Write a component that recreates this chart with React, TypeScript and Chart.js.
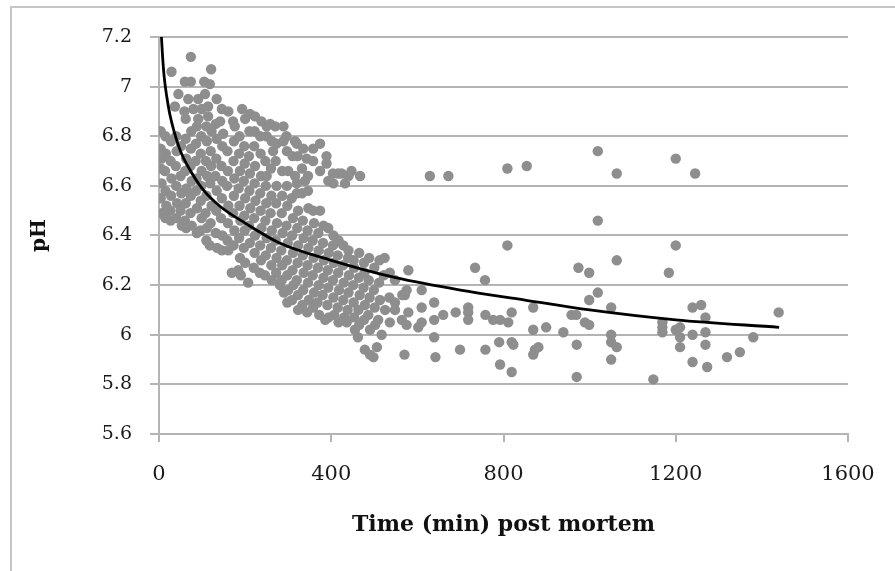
import React, { useEffect, useRef } from "react";
import { Chart, registerables } from "chart.js";

Chart.register(...registerables);

// Scatter readings (time in minutes post mortem, pH)
const cloudEarly: [number, number][] = [
  [4,6.82],[4,6.75],[6,6.71],[4,6.67],[6,6.61],[4,6.55],[6,6.49],
  [15,6.80],[16,6.73],[14,6.66],[15,6.58],[17,6.52],[15,6.47],
  [29,7.06],[28,6.78],[27,6.70],[29,6.63],[28,6.56],[26,6.50],[27,6.46],
  [37,6.92],[40,6.80],[41,6.74],[39,6.68],[40,6.60],[42,6.53],[40,6.47],
  [45,6.97],[51,6.76],[50,6.64],[52,6.57],[50,6.50],[53,6.44],
  [60,7.02],[59,6.90],[62,6.87],[62,6.79],[63,6.71],[61,6.66],[64,6.59],[62,6.53],[60,6.46],[63,6.43],
  [74,7.12],[74,7.02],[68,6.95],[75,6.82],[74,6.75],[73,6.68],[76,6.62],[74,6.56],[73,6.49],[76,6.44],
  [80,6.91],[88,6.84],[86,6.77],[85,6.70],[87,6.63],[86,6.58],[88,6.51],[88,6.41],
  [91,6.95],[99,6.91],[91,6.87],[98,6.80],[97,6.73],[99,6.66],[98,6.60],[97,6.54],[99,6.47],[96,6.42],
  [105,7.02],[107,6.97],[114,6.92],[110,6.84],[111,6.78],[109,6.70],[112,6.64],[110,6.56],[108,6.49],[111,6.43],[110,6.38],
  [121,7.07],[118,7.01],[114,6.88],[122,6.82],[120,6.74],[121,6.68],[119,6.61],[122,6.52],[120,6.45],[118,6.36],
  [134,6.95],[132,6.85],[134,6.79],[133,6.71],[131,6.64],[134,6.58],[133,6.50],[132,6.41],[135,6.35],
  [146,6.91],[142,6.86],[147,6.76],[145,6.68],[147,6.62],[146,6.55],[144,6.47],[147,6.40],[146,6.34],
  [161,6.90],[149,6.81],[159,6.74],[160,6.66],[158,6.60],[161,6.52],[160,6.45],[159,6.38],[161,6.34],[169,6.25],
  [172,6.86],[176,6.84],[174,6.78],[173,6.70],[175,6.63],[174,6.56],[172,6.49],[175,6.42],[173,6.36],[184,6.26],
  [187,6.80],[186,6.73],[188,6.66],[185,6.59],[187,6.52],[189,6.46],[186,6.39],[188,6.31],[190,6.24],
  [193,6.91],[200,6.87],[198,6.76],[199,6.69],[197,6.62],[200,6.55],[198,6.48],[199,6.42],[197,6.35],[200,6.29],
];

const cloudMid: [number, number][] = [
  [211,6.89],[210,6.82],[209,6.72],[211,6.65],[210,6.58],[212,6.51],[209,6.44],[211,6.37],[207,6.21],
  [223,6.88],[222,6.82],[221,6.76],[223,6.68],[222,6.61],[224,6.54],[221,6.47],[223,6.40],[222,6.33],[220,6.27],
  [238,6.86],[235,6.80],[236,6.73],[237,6.64],[235,6.57],[236,6.50],[238,6.43],[235,6.36],[237,6.30],[234,6.25],
  [250,6.84],[250,6.80],[247,6.70],[250,6.64],[248,6.60],[249,6.53],[247,6.46],[250,6.39],[248,6.32],[246,6.24],
  [258,6.85],[262,6.78],[265,6.74],[260,6.67],[261,6.56],[259,6.49],[262,6.42],[260,6.35],[261,6.28],[262,6.22],
  [270,6.84],[273,6.77],[271,6.70],[273,6.60],[272,6.53],[274,6.45],[271,6.38],[273,6.31],[272,6.25],[281,6.20],
  [289,6.84],[289,6.78],[286,6.66],[286,6.56],[285,6.49],[287,6.41],[284,6.34],[286,6.28],[285,6.22],[290,6.17],
  [296,6.80],[297,6.74],[300,6.66],[297,6.60],[298,6.52],[296,6.44],[299,6.37],[297,6.30],[298,6.24],[300,6.18],[298,6.13],
  [316,6.78],[310,6.72],[316,6.64],[308,6.55],[311,6.47],[309,6.40],[311,6.33],[310,6.26],[312,6.20],[309,6.14],
  [320,6.77],[322,6.72],[320,6.61],[320,6.57],[323,6.50],[321,6.43],[323,6.36],[322,6.29],[320,6.22],[323,6.16],[323,6.10],
  [335,6.75],[332,6.67],[339,6.62],[332,6.57],[334,6.46],[336,6.39],[334,6.32],[336,6.25],[335,6.18],[333,6.12],
  [343,6.71],[346,6.64],[346,6.58],[347,6.51],[345,6.42],[347,6.35],[345,6.28],[346,6.21],[348,6.14],[344,6.09],
  [358,6.75],[358,6.70],[358,6.50],[360,6.45],[357,6.38],[359,6.31],[357,6.24],[360,6.17],[358,6.11],
  [374,6.77],[374,6.66],[374,6.50],[370,6.41],[371,6.34],[369,6.27],[371,6.20],[368,6.13],[372,6.08],
  [389,6.72],[389,6.69],[382,6.44],[381,6.37],[383,6.30],[382,6.23],[380,6.16],[386,6.06],
  [393,6.62],[393,6.43],[394,6.33],[392,6.26],[393,6.19],[391,6.12],[394,6.07],
];

const cloudLate: [number, number][] = [
  [405,6.61],[404,6.65],[405,6.40],[404,6.36],[406,6.29],[404,6.22],[405,6.15],[407,6.08],
  [416,6.65],[417,6.38],[415,6.32],[416,6.25],[418,6.18],[415,6.11],[417,6.05],
  [424,6.65],[432,6.61],[428,6.36],[427,6.28],[429,6.21],[428,6.14],[430,6.07],
  [440,6.64],[440,6.34],[439,6.31],[441,6.24],[440,6.17],[438,6.10],[436,6.05],
  [447,6.66],[452,6.30],[453,6.27],[451,6.20],[452,6.13],[453,6.07],[455,6.02],
  [467,6.64],[465,6.33],[464,6.23],[466,6.16],[463,6.10],[465,6.04],[462,5.99],
  [476,6.29],[477,6.25],[475,6.19],[478,6.12],[476,6.06],[478,5.94],
  [488,6.31],[487,6.22],[489,6.15],[486,6.08],[490,6.02],[490,5.92],
  [500,6.27],[499,6.18],[501,6.11],[502,6.04],[498,5.91],
  [512,6.30],[511,6.21],[513,6.14],[509,6.06],[506,5.95],
  [524,6.31],[522,6.24],[525,6.10],[517,6.00],
  [536,6.25],[535,6.15],[536,6.05],
  [548,6.22],[548,6.13],[548,6.10],
];

const scatterSparse: [number, number][] = [
  [565,6.16],[571,6.16],[575,6.18],[579,6.26],
  [610,6.18],[639,6.13],[610,6.11],[579,6.09],[660,6.08],[639,6.06],[689,6.09],[718,6.11],[718,6.09],[718,6.06],
  [734,6.27],[757,6.22],[758,6.08],[776,6.06],[792,6.06],[811,6.05],[819,6.09],
  [564,6.06],[575,6.04],[602,6.03],[610,6.05],[639,5.99],[570,5.92],[642,5.91],[699,5.94],[758,5.94],
  [790,5.97],[819,5.97],[823,5.96],[881,5.95],[873,5.94],[869,5.92],[792,5.88],[819,5.85],
  [629,6.64],[672,6.64],
  [809,6.67],[854,6.68],[1019,6.74],[1063,6.65],[1200,6.71],[1245,6.65],
  [1019,6.46],[809,6.36],[1200,6.36],[1063,6.30],[974,6.27],[999,6.25],[1184,6.25],
  [1019,6.17],[999,6.14],[1050,6.11],[1239,6.11],[1259,6.12],[1269,6.07],[1439,6.09],
  [869,6.11],[958,6.08],[969,6.08],[989,6.05],[999,6.04],[869,6.02],[899,6.03],[939,6.01],
  [1169,6.05],[1169,6.03],[1169,6.01],[1200,6.02],[1210,6.03],[1210,5.99],[1239,6.00],[1269,6.01],
  [1050,6.00],[1050,5.97],[1063,5.95],[970,5.96],[1210,5.95],[1269,5.96],[1380,5.99],[1349,5.93],[1319,5.91],
  [1050,5.90],[970,5.83],[1148,5.82],[1239,5.89],[1273,5.87],
];

// Trend line
const trendTime = [5.7, 8, 12, 18, 25, 35, 50, 70, 100, 140, 200, 280, 400, 550, 700, 850, 1000, 1200, 1440];
const trendPH = [7.2, 7.13, 7.04, 6.96, 6.89, 6.82, 6.74, 6.67, 6.59, 6.52, 6.45, 6.37, 6.3, 6.23, 6.18, 6.14, 6.1, 6.06, 6.03];

const xTicks = [0, 400, 800, 1200, 1600];
const yTicks = [5.6, 5.8, 6, 6.2, 6.4, 6.6, 6.8, 7, 7.2];
const xTitle = "Time (min) post mortem";
const yTitle = "pH";

const SERIF = "'DejaVu Serif', serif";

export default function App() {
  const ref = useRef<HTMLCanvasElement | null>(null);

  useEffect(() => {
    if (!ref.current) return;
    const pts = [...cloudEarly, ...cloudMid, ...cloudLate, ...scatterSparse].map(([x, y]) => ({ x, y }));
    const trend = trendTime.map((x, i) => ({ x, y: trendPH[i] }));
    const chart = new Chart(ref.current, {
      type: "scatter",
      data: {
        datasets: [
          {
            label: "trend",
            data: trend,
            showLine: true,
            borderColor: "#000000",
            borderWidth: 2.8,
            pointRadius: 0,
            cubicInterpolationMode: "monotone",
            order: 0,
          } as any,
          {
            label: "pH",
            data: pts,
            backgroundColor: "#8e8e8e",
            borderColor: "#8e8e8e",
            pointRadius: 5.2,
            pointBorderWidth: 0,
            order: 1,
          },
        ],
      },
      options: {
        animation: false,
        responsive: false,
        maintainAspectRatio: false,
        layout: { padding: { left: 0, top: 37, right: 47, bottom: 0 } },
        plugins: { legend: { display: false }, tooltip: { enabled: false } },
        scales: {
          x: {
            type: "linear",
            min: 0,
            max: 1600,
            afterBuildTicks: (s: any) => { s.ticks = xTicks.map((v) => ({ value: v })); },
            afterFit: (s: any) => { s.height = 137; },
            ticks: {
              color: "#1a1a1a",
              font: { family: SERIF, size: 21 },
              padding: 20,
              maxRotation: 0,
              callback: (v: any) => String(Math.round(Number(v))),
            },
            grid: { drawOnChartArea: false, drawTicks: true, tickLength: 8, color: "#b4b4b4", lineWidth: 2 },
            border: { display: true, color: "#b4b4b4", width: 2 },
            title: { display: true, text: xTitle, color: "#111", font: { family: SERIF, size: 22, weight: "bold" }, padding: { top: 0, bottom: 33 } },
          },
          y: {
            type: "linear",
            min: 5.6,
            max: 7.2,
            afterBuildTicks: (s: any) => { s.ticks = yTicks.map((v) => ({ value: v })); },
            afterFit: (s: any) => { s.width = 159; },
            ticks: {
              color: "#1a1a1a",
              font: { family: SERIF, size: 19 },
              padding: 18,
              callback: (v: any) => String(Number(Number(v).toFixed(1))),
            },
            grid: { drawOnChartArea: true, drawTicks: true, tickLength: 9, color: "#b4b4b4", lineWidth: 2 },
            border: { display: true, color: "#b4b4b4", width: 2 },
            title: { display: true, text: yTitle, color: "#111", font: { family: SERIF, size: 20, weight: "bold" }, padding: { top: 28, bottom: 0 } },
          },
        },
      },
    });
    return () => chart.destroy();
  }, []);

  return (
    <div style={{ position: "absolute", left: 0, top: 0, width: 895, height: 571, overflow: "hidden", background: "#fff" }}>
      <div style={{ position: "absolute", left: 10, top: 6, width: 900, height: 600, borderLeft: "2px solid #c6c6c6", borderTop: "2px solid #c6c6c6" }} />
      <canvas ref={ref} width={895} height={571} style={{ position: "absolute", left: 0, top: 0, width: 895, height: 571 }} />
    </div>
  );
}
